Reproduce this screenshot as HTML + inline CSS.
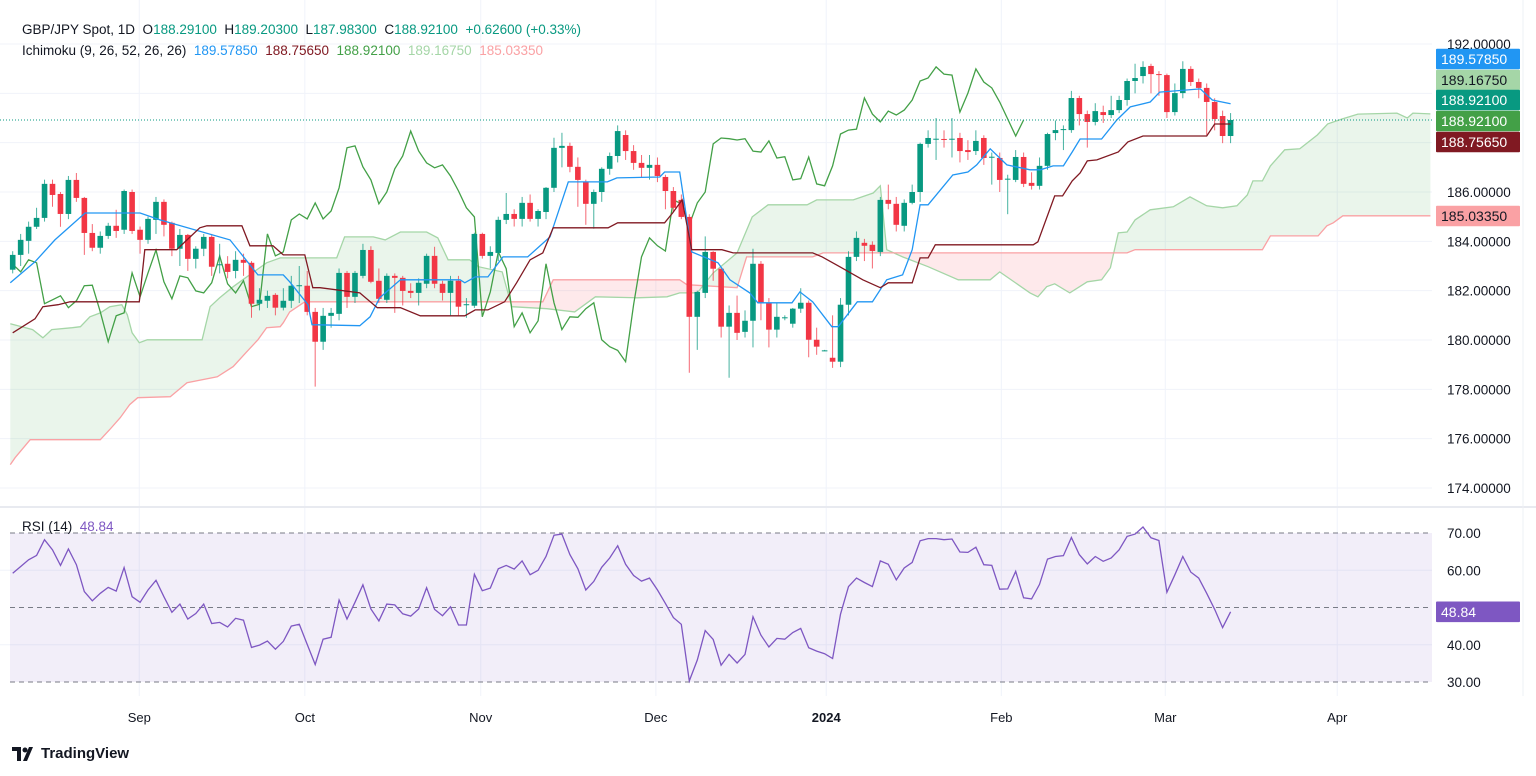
<!DOCTYPE html>
<html><head><meta charset="utf-8"><style>
body{margin:0;background:#fff;width:1536px;height:776px;overflow:hidden;font-family:"Liberation Sans",sans-serif}
svg{position:absolute;left:0;top:0}
text{font-family:"Liberation Sans",sans-serif}
</style></head><body>
<svg id="c" width="1536" height="776" viewBox="0 0 1536 776"></svg>
<script>
// ---- data ----
const opens=[182.85,183.45,184.02,184.59,184.95,186.33,185.92,185.11,186.49,185.76,184.34,183.74,184.22,184.63,184.47,186.0,184.47,184.06,184.87,185.60,184.75,183.70,184.26,183.29,183.70,184.18,183.05,183.09,182.80,183.25,183.13,181.47,181.59,181.83,181.31,181.59,182.20,182.20,181.14,179.93,180.98,181.06,182.72,181.75,182.60,183.65,182.40,181.63,182.60,182.52,181.99,181.91,182.28,183.41,182.28,181.91,182.40,181.43,181.39,184.30,183.41,183.53,184.87,185.11,184.91,185.56,184.91,185.19,186.17,187.79,187.87,187.02,186.41,185.52,186.0,186.94,187.46,188.31,187.66,187.18,186.98,187.10,186.61,186.04,185.68,184.99,180.94,181.91,183.57,182.89,180.54,181.10,180.33,180.78,183.09,181.51,180.42,180.90,180.66,181.27,181.51,180.01,179.57,179.28,179.12,181.43,183.37,183.94,183.86,183.57,185.68,185.52,184.63,185.56,186.0,187.95,188.15,188.15,188.15,188.19,187.70,187.66,188.19,187.42,187.38,186.53,186.49,187.42,186.37,186.25,187.06,188.39,188.51,188.51,189.81,189.16,188.84,189.24,189.12,189.32,189.73,190.50,190.70,191.11,190.78,190.74,189.24,190.01,190.99,190.46,190.22,189.65,189.08,188.27];
const closes=[183.45,184.06,184.59,184.95,186.33,185.88,185.11,186.49,185.76,184.34,183.74,184.22,184.63,184.42,186.04,184.42,184.06,184.91,185.60,184.67,183.70,184.26,183.29,183.70,184.18,182.97,183.07,182.76,183.25,183.13,181.47,181.63,181.79,181.31,181.59,182.20,182.22,181.14,179.93,180.98,181.10,182.72,181.75,182.72,183.65,182.36,181.67,182.60,182.52,181.99,181.91,182.32,183.41,182.28,181.91,182.40,181.35,181.45,184.30,183.41,183.57,184.87,185.11,184.91,185.56,184.91,185.23,186.17,187.79,187.87,187.02,186.49,185.52,186.0,186.94,187.46,188.47,187.66,187.18,186.98,187.10,186.65,186.04,185.36,184.99,180.94,181.95,183.57,182.89,180.54,181.10,180.29,180.78,183.09,181.51,180.42,180.94,180.92,181.27,181.51,180.01,179.73,179.58,179.12,181.43,183.37,184.14,183.82,183.61,185.68,185.52,184.67,185.56,186.0,187.95,188.19,188.16,188.11,188.16,187.66,187.62,188.07,187.38,187.43,186.49,186.54,187.42,186.33,186.25,187.06,188.35,188.51,188.55,189.81,189.16,188.84,189.28,189.12,189.32,189.73,190.50,190.62,191.07,190.78,190.74,189.24,190.01,190.99,190.46,190.22,189.65,188.96,188.27,188.92];
const highs=[183.6,184.3,184.8,185.36,186.5,186.5,186.0,186.65,186.77,185.8,184.7,184.4,184.75,185.28,186.1,186.1,184.6,185.0,185.8,185.7,184.8,184.5,184.3,183.8,184.3,184.3,183.9,183.4,183.6,183.5,183.2,182.1,182.0,181.9,182.1,182.6,183.0,182.8,181.3,181.3,181.3,182.9,182.8,182.8,183.9,183.8,182.9,182.7,182.7,182.6,182.3,182.5,183.5,183.78,182.4,182.6,182.6,181.7,184.35,184.35,183.8,185.0,185.96,185.3,185.8,185.9,185.3,186.2,188.2,188.4,188.0,187.4,186.5,186.1,187.0,187.6,188.7,188.5,187.9,187.5,187.5,187.4,186.7,186.2,185.9,185.1,182.0,184.2,183.6,182.9,181.4,181.8,181.2,183.7,183.2,181.7,181.5,181.0,181.3,182.1,181.6,180.5,179.6,181.0,181.7,183.6,184.4,184.1,184.0,185.8,186.3,185.8,185.7,186.3,188.0,188.5,189.0,188.5,189.0,188.4,188.1,188.5,188.3,187.6,187.6,186.7,187.7,187.6,186.8,187.4,188.4,188.9,188.7,190.1,189.9,189.3,189.6,189.5,189.9,189.9,190.6,191.2,191.3,191.2,190.9,190.8,190.4,191.3,191.1,190.6,190.4,189.8,189.3,189.20];
const lows=[182.7,183.0,183.5,184.5,184.8,185.4,184.59,184.9,185.6,183.45,183.6,183.5,184.1,184.14,184.3,184.3,183.5,183.9,184.3,184.2,183.4,183.0,182.8,182.9,183.4,182.6,182.7,182.5,182.5,182.6,180.9,181.2,181.3,181.0,181.2,181.3,181.5,181.0,178.11,179.6,180.5,180.8,181.3,181.5,182.5,182.3,181.5,181.5,181.10,181.4,181.7,181.4,182.1,182.1,181.6,181.0,181.0,180.9,181.3,183.3,182.9,183.2,184.7,184.6,184.6,184.8,184.6,184.9,186.0,187.0,186.8,185.4,184.67,184.51,185.6,186.7,187.2,187.3,186.9,186.6,186.5,186.4,185.3,185.2,184.9,178.67,179.6,181.7,182.4,180.1,178.47,180.0,180.1,179.7,180.8,179.7,180.1,180.8,180.5,181.1,179.3,179.4,179.55,178.87,178.9,181.0,183.2,183.2,182.9,183.4,185.3,184.4,184.4,185.5,185.6,187.8,187.3,187.8,187.4,187.2,187.3,187.5,187.1,186.3,186.0,185.1,186.4,186.2,186.1,186.1,186.9,188.1,187.7,188.4,188.7,187.8,188.7,188.8,189.0,189.2,189.5,190.0,190.4,190.0,189.9,189.0,189.1,189.8,190.3,189.8,188.31,188.5,187.98,187.98];
const rsiValues=[59.2,61.0,62.8,64.0,68.2,65.5,61.3,65.7,61.5,54.3,51.8,53.8,55.4,54.4,60.7,52.9,51.4,54.7,57.3,52.9,48.7,50.9,46.9,48.4,50.9,45.7,46.0,44.8,47.1,46.6,39.3,39.9,41.0,38.8,40.9,45.0,45.5,40.1,34.7,41.5,42.0,52.0,46.9,51.4,56.1,49.6,46.4,50.9,50.7,48.3,47.7,49.6,55.3,49.5,47.8,50.2,45.3,45.3,58.9,54.5,55.2,60.4,61.3,60.3,62.5,58.8,60.0,63.7,69.4,69.7,64.2,60.4,54.7,57.0,60.8,63.3,
66.6,61.6,58.6,57.1,57.9,54.7,51.1,47.3,45.5,30.3,35.9,43.8,41.4,34.5,37.4,35.1,37.4,47.5,42.6,39.4,41.7,41.5,43.3,44.4,39.2,38.3,37.6,36.3,48.2,55.6,57.9,56.7,55.6,62.5,61.6,57.4,60.6,62.1,67.9,68.5,68.5,68.2,68.4,64.9,64.8,66.2,61.5,61.3,54.9,55.0,59.7,52.6,52.3,56.2,63.0,63.7,63.9,68.8,64.2,61.7,63.7,62.4,63.3,65.5,69.1,69.7,71.6,68.7,68.0,54.1,58.8,63.7,59.5,57.9,53.8,49.5,44.6,48.84];
// Ichimoku lines: [bar index, price] vertices
const tenkan=[[-0.3,182.32],[2.8,183.17],[5.3,184.06],[9.1,185.15],[16.0,185.15],[18.5,184.87],[27.3,184.06],[29.8,183.05],[30.8,182.64],[34.0,182.64],[34.8,182.36],[37.1,181.43],[37.6,180.62],[43.6,180.58],[44.9,180.94],[46.1,181.71],[48.7,182.44],[56.2,182.44],[56.8,182.32],[58.1,182.56],[59.7,182.56],[61.6,183.37],[64.7,183.37],[67.5,184.18],[69.8,186.41],[74.7,186.41],[75.9,186.57],[81.3,186.61],[81.9,186.81],[83.8,186.81],[85.3,183.57],[88.6,183.13],[90.1,182.44],[92.6,181.91],[93.6,181.51],[97.9,181.51],[98.9,181.95],[100.5,181.55],[102.9,180.54],[103.7,180.54],[106.1,181.55],[108.0,181.55],[109.8,182.44],[111.8,182.64],[113.0,183.66],[114.0,185.48],[115.0,185.48],[118.1,186.69],[120.0,186.81],[121.1,187.10],[122.8,187.75],[124.9,187.10],[127.8,186.90],[129.1,186.90],[130.7,187.06],[132.0,187.06],[133.1,187.62],[134.1,188.15],[136.8,188.15],[138.7,188.92],[140.4,189.45],[142.9,189.65],[144.1,190.05],[149.2,190.18],[150.7,189.73],[153,189.5785]];
const kijun=[[0,180.29],[2.8,180.86],[3.8,181.35],[5.7,181.43],[7.2,181.55],[15.9,181.55],[16.6,183.66],[20.6,183.66],[21.9,184.06],[23.5,184.55],[24.4,184.63],[28.8,184.63],[29.8,183.82],[32.7,183.82],[34.0,183.45],[36.7,183.45],[37.7,182.12],[38.6,182.12],[43.6,181.91],[45.8,181.31],[48.7,181.31],[51.2,180.98],[56.8,180.98],[58.1,181.22],[59.7,181.22],[61.8,181.55],[63.3,182.32],[65.0,183.25],[66.6,183.53],[67.9,184.55],[74.8,184.55],[76.0,184.75],[81.9,184.75],[82.9,185.15],[84.1,185.68],[85.3,183.66],[89.1,183.66],[90.5,183.53],[100.5,183.53],[101.7,183.37],[103.9,182.97],[106.8,182.44],[109.0,182.12],[110.0,182.32],[113.0,182.32],[114.0,183.33],[115.0,183.33],[115.9,183.86],[128.2,183.86],[128.8,183.98],[130.9,185.84],[131.9,185.84],[133.1,186.45],[134.1,186.77],[135.0,187.26],[136.2,187.30],[138.9,187.62],[140.1,188.03],[142.0,188.27],[150.0,188.27],[151.0,188.7565],[153,188.7565]];
const spanA=[[-0.3,180.66],[2.5,180.42],[3.8,180.09],[4.9,180.42],[7.5,180.50],[8.5,180.54],[9.7,180.94],[11.0,181.10],[12.2,181.35],[13.7,181.43],[14.4,181.02],[15.0,180.29],[15.9,179.89],[16.9,180.01],[23.8,180.01],[24.8,181.35],[26.0,181.71],[27.7,182.16],[28.9,182.44],[31.9,183.13],[33.6,183.33],[40.7,183.33],[41.7,184.18],[45.3,184.18],[46.8,184.06],[48.7,184.38],[52.0,184.38],[53.4,184.14],[54.7,183.25],[57.4,183.25],[58.5,182.97],[61.5,182.76],[62.7,181.35],[67.1,181.27],[70.6,181.14],[73.2,181.75],[78.4,181.71],[82.2,181.75],[83.8,181.91],[86.0,181.91],[88.0,182.72],[91.0,183.53],[92.9,184.99],[94.9,185.48],[99.8,185.48],[101.0,185.68],[105.6,185.68],[108.1,185.96],[109.0,186.25],[109.8,183.66],[111.8,183.37],[115.0,182.97],[118.8,182.44],[122.8,182.44],[124.0,182.76],[124.9,182.56],[127.8,181.91],[128.8,181.75],[129.9,182.16],[130.9,182.28],[132.8,181.91],[135.0,182.36],[136.8,182.44],[137.9,182.93],[138.9,184.34],[140.0,184.38],[141.0,184.87],[142.9,185.28],[145.8,185.40],[147.9,185.80],[150.0,185.44],[152.0,185.36],[153.8,185.44],[155.1,185.88],[155.8,186.45],[157.0,186.45],[158.0,187.06],[159.8,187.71],[161.7,187.75],[163.9,188.31],[165.2,188.76],[167.0,188.96],[169.0,189.16],[173.9,189.20],[175.2,189.00],[175.9,189.20],[178.1,189.1675]];
const spanB=[[-0.3,174.95],[0.3,175.23],[2.2,175.96],[11.0,175.96],[12.2,176.37],[13.5,176.85],[14.7,177.38],[15.7,177.66],[19.8,177.70],[21.9,178.27],[25.7,178.51],[27.7,178.92],[29.4,179.52],[30.8,180.01],[31.9,180.50],[33.6,180.54],[34.0,180.70],[34.8,181.14],[36.7,181.55],[66.6,181.55],[67.9,182.44],[83.8,182.44],[84.7,182.24],[91.0,182.12],[92.2,183.37],[100.5,183.37],[101.8,183.53],[140.0,183.53],[141.0,183.66],[157.0,183.66],[158.0,184.22],[164.0,184.22],[165.1,184.63],[165.9,184.75],[167.1,185.0335],[178.1,185.0335]];
const priceTicks=[192,186,184,182,180,178,176,174];
const gridPrices=[192,190,188,186,184,182,180,178,176,174];
const rsiTicks=[70,60,40,30];
const monthLabels=["Sep","Oct","Nov","Dec","2024","Feb","Mar","Apr"];
const monthBars=[15.9,36.7,58.8,80.8,102.2,124.2,144.8,166.4];

// ---- scales ----
const X0=12.7, STEP=7.96;
const xs=i=>X0+i*STEP;
const yp=p=>44+(192-p)*(444/18);
const yr=v=>533+(70-v)*(149/40);
const NS='http://www.w3.org/2000/svg';
const svg=document.getElementById('c');
function el(tag,attrs,parent){const e=document.createElementNS(NS,tag);for(const k in attrs)e.setAttribute(k,attrs[k]);(parent||svg).appendChild(e);return e;}
function txt(s,x,y,fill,size,parent,extra){const t=el('text',Object.assign({x:x,y:y,fill:fill,'font-size':size},extra||{}),parent);t.textContent=s;return t;}

// clip for price pane
const defs=el('defs',{});
const cp=el('clipPath',{id:'pc'},defs);el('rect',{x:0,y:0,width:1432,height:506},cp);

// grid
const grid=el('g',{});


gridPrices.forEach(p=>el('line',{x1:0,x2:1432,y1:yp(p),y2:yp(p),stroke:'#f0f3fa','stroke-width':1},grid));
monthBars.forEach(b=>{el('line',{x1:xs(b),x2:xs(b),y1:0,y2:506,stroke:'#f0f3fa'},grid);el('line',{x1:xs(b),x2:xs(b),y1:508,y2:696,stroke:'#f0f3fa'},grid);});
[60,40].forEach(v=>el('line',{x1:0,x2:1432,y1:yr(v),y2:yr(v),stroke:'#f0f3fa'},grid));

// price pane group
const pg=el('g',{'clip-path':'url(#pc)'});



function interp(pts,b){if(b<=pts[0][0])return pts[0][1];for(let k=1;k<pts.length;k++){if(b<=pts[k][0]){const a=pts[k-1],c=pts[k];return a[1]+(c[1]-a[1])*(b-a[0])/(c[0]-a[0]);}}return pts[pts.length-1][1];}
function ptsPath(pts){return pts.map((p,k)=>(k?'L':'M')+xs(p[0]).toFixed(1)+' '+yp(p[1]).toFixed(1)).join(' ');}

// cloud fills
const b0=spanA[0][0],b1=spanA[spanA.length-1][0];
let gTop=[],gBot=[],rTop=[],rBot=[];
for(let b=b0;b<=b1+0.001;b+=0.1){const a=yp(interp(spanA,b)),c=yp(interp(spanB,b)),m=Math.max(a,c),x=xs(b).toFixed(1);gTop.push(x+' '+a.toFixed(1));gBot.push(x+' '+m.toFixed(1));rTop.push(x+' '+c.toFixed(1));rBot.push(x+' '+m.toFixed(1));}
const gf=el('path',{d:'M'+gTop.join(' L')+' L'+gBot.reverse().join(' L')+'Z',fill:'rgba(67,160,71,0.11)'},pg);


const rf=el('path',{d:'M'+rTop.join(' L')+' L'+rBot.reverse().join(' L')+'Z',fill:'rgba(242,54,69,0.11)'},pg);



const la=el('path',{d:ptsPath(spanA),fill:'none',stroke:'#a5d6a7','stroke-width':1.3},pg);


const lb=el('path',{d:ptsPath(spanB),fill:'none',stroke:'#faa1a4','stroke-width':1.3},pg);



// lagging span from closes shifted back 26
const lagPts=[];for(let i=26;i<closes.length;i++)lagPts.push([i-26,closes[i]]);
const lg=el('path',{d:ptsPath(lagPts),fill:'none',stroke:'#43a047','stroke-width':1.3},pg);



// candles
const cg=el('g',{},pg);


for(let i=0;i<closes.length;i++){
  const up=closes[i]>=opens[i],col=up?'#089981':'#f23645',x=xs(i);
  const g=el('g',{},cg);
  
  
  el('line',{x1:x,x2:x,y1:yp(highs[i]),y2:yp(lows[i]),stroke:col,'stroke-width':1,opacity:0.75},g);
  const t=yp(Math.max(opens[i],closes[i])),bt=yp(Math.min(opens[i],closes[i]));
  el('rect',{x:x-2.8,y:t,width:5.6,height:Math.max(1,bt-t),fill:col},g);
}
const tl=el('path',{d:ptsPath(tenkan),fill:'none',stroke:'#2196f3','stroke-width':1.3},pg);


const kl=el('path',{d:ptsPath(kijun),fill:'none',stroke:'#801922','stroke-width':1.3},pg);


const last=closes[closes.length-1];
const pl=el('line',{x1:0,x2:1432,y1:yp(last),y2:yp(last),stroke:'#089981','stroke-dasharray':'1 2','stroke-width':1},pg);



// pane separator
const sep=el('line',{x1:0,x2:1536,y1:507,y2:507,stroke:'#e0e3eb','stroke-width':1.5});



// RSI pane
const rg=el('g',{});


el('rect',{x:10,y:yr(70),width:1422,height:yr(30)-yr(70),fill:'rgba(126,87,194,0.1)'},rg);
[70,50,30].forEach(v=>el('line',{x1:10,x2:1432,y1:yr(v),y2:yr(v),stroke:'#787b86','stroke-dasharray':'5 4','stroke-width':1},rg));
const rl=el('path',{d:rsiValues.map((v,i)=>(i?'L':'M')+xs(i).toFixed(1)+' '+yr(v).toFixed(1)).join(' '),fill:'none',stroke:'#7e57c2','stroke-width':1.3},rg);



// axes labels
const ax=el('g',{});


priceTicks.forEach(p=>txt(p.toFixed(5),1447,yp(p)+5,'#131722',13.5,ax));
rsiTicks.forEach(v=>txt(v.toFixed(2),1447,yr(v)+5,'#131722',13.5,ax));
el('line',{x1:1523,x2:1523,y1:0,y2:696,stroke:'#eef0f5'});
const tx=el('g',{});


monthLabels.forEach((m,k)=>txt(m,xs(monthBars[k]),722,'#131722',13,tx,{'text-anchor':'middle','font-weight':m==='2024'?'bold':'normal'}));

// value boxes
function box(name,val,y,bg,fg){const g=el('g',{});el('rect',{x:1436,y:y-10.3,width:84,height:20.6,fill:bg,rx:1},g);txt(val,1441,y+5,fg,14,g);}
box('tenkan-value-box','189.57850',59,'#2196f3','#fff');
box('span-a-value-box','189.16750',80,'#a5d6a7','#131722');
box('last-price-box','188.92100',100,'#089981','#fff');
box('lagging-value-box','188.92100',121,'#43a047','#fff');
box('kijun-value-box','188.75650',142,'#801922','#fff');
box('span-b-value-box','185.03350',216,'#faa1a4','#131722');
box('rsi-value-box','48.84',yr(48.84),'#7e57c2','#fff');
</script>
<div style="position:absolute;left:22px;top:22px;font-size:13.5px;color:#131722;white-space:nowrap">
<div>GBP/JPY Spot, 1D&nbsp; O<span style="color:#089981">188.29100</span>&nbsp; H<span style="color:#089981">189.20300</span>&nbsp; L<span style="color:#089981">187.98300</span>&nbsp; C<span style="color:#089981">188.92100</span>&nbsp; <span style="color:#089981">+0.62600 (+0.33%)</span></div>
<div style="margin-top:6px">Ichimoku (9, 26, 52, 26, 26)&nbsp; <span style="color:#2196f3">189.57850</span>&nbsp; <span style="color:#801922">188.75650</span>&nbsp; <span style="color:#43a047">188.92100</span>&nbsp; <span style="color:#a5d6a7">189.16750</span>&nbsp; <span style="color:#faa1a4">185.03350</span></div>
</div>
<div style="position:absolute;left:22px;top:519px;font-size:13.5px;color:#131722">RSI (14)&nbsp; <span style="color:#7e57c2">48.84</span></div>
<div style="position:absolute;left:12px;top:745px;font-size:15px;font-weight:bold;color:#131722;display:flex;align-items:center">
<svg width="26" height="14" viewBox="0 0 26 14" style="position:static"><path d="M0 0H9V14H5V4H0Z M11 14L17 0H21L15 14Z" fill="#131722"/><circle cx="13" cy="3" r="2.5" fill="#131722"/></svg><span style="margin-left:3px">TradingView</span></div>
</body></html>
